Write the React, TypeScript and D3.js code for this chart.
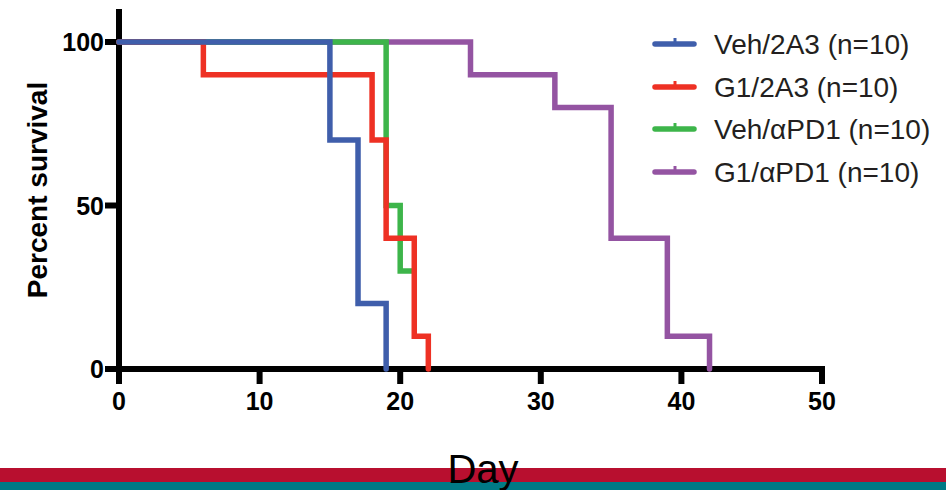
import * as d3 from 'd3'

type Pt = [number, number]

// survival steps: [day, percent]
const veh2A3: Pt[] = [[0, 100], [15, 70], [17, 20], [19, 0]]
const g12A3: Pt[] = [[0, 100], [6, 90], [18, 70], [19, 40], [21, 10], [22, 0]]
const vehPD1: Pt[] = [[0, 100], [19, 50], [20, 30], [21, 30]]
const g1PD1: Pt[] = [[0, 100], [25, 90], [31, 80], [35, 40], [39, 10], [42, 0]]

const seriesNames = ['Veh/2A3 (n=10)', 'G1/2A3 (n=10)', 'Veh/αPD1 (n=10)', 'G1/αPD1 (n=10)']
const seriesColors = ['#3f5eab', '#ee3124', '#3db54a', '#9454a2']
const seriesData = [veh2A3, g12A3, vehPD1, g1PD1]
// bottom to top
const drawOrder = [3, 2, 1, 0]

const xTicks = [0, 10, 20, 30, 40, 50]
const yTicks = [0, 50, 100]

export default function App() {
  const width = 946
  const height = 490

  const x = d3.scaleLinear().domain([0, 50]).range([119, 822])
  const y = d3.scaleLinear().domain([0, 100]).range([369, 42])

  const line = d3
    .line<Pt>()
    .x((d) => x(d[0]))
    .y((d) => y(d[1]))
    .curve(d3.curveStepAfter)

  const font = 'Liberation Sans, Arial, Helvetica, sans-serif'

  return (
    <svg width={width} height={height} style={{ position: 'absolute', left: 0, top: 0 }}>
      <rect width={width} height={height} fill="#fff" />

      {/* bottom bands */}
      <rect x={0} y={468} width={width} height={14} fill="#b80f2f" />
      <rect x={0} y={482} width={width} height={8} fill="#007a86" />

      {/* axes */}
      <line x1={x(0)} x2={x(0)} y1={9} y2={y(0) + 3} stroke="#000" strokeWidth={6} />
      <line x1={x(0) - 3} x2={x(50) + 3} y1={y(0)} y2={y(0)} stroke="#000" strokeWidth={6} />
      {xTicks.map((t) => (
        <g key={t}>
          <line x1={x(t)} x2={x(t)} y1={y(0)} y2={384} stroke="#000" strokeWidth={6} />
          <text x={x(t)} y={410} textAnchor="middle" fontFamily={font} fontWeight="bold" fontSize={25}>
            {t}
          </text>
        </g>
      ))}
      {yTicks.map((t) => (
        <g key={t}>
          <line x1={105} x2={x(0)} y1={y(t)} y2={y(t)} stroke="#000" strokeWidth={6} />
          <text x={104} y={y(t) + 9} textAnchor="end" fontFamily={font} fontWeight="bold" fontSize={25}>
            {t}
          </text>
        </g>
      ))}

      <text
        transform="translate(47,190) rotate(-90)"
        textAnchor="middle"
        fontFamily={font}
        fontWeight="bold"
        fontSize={28}
      >
        Percent survival
      </text>
      <text x={483} y={483} textAnchor="middle" fontFamily={font} fontSize={40} fill="#000">
        Day
      </text>

      {/* curves */}
      {drawOrder.map((i) => (
        <path
          key={seriesNames[i]}
          d={line(seriesData[i]) ?? undefined}
          fill="none"
          stroke={seriesColors[i]}
          strokeWidth={5.5}
          strokeLinecap="round"
          strokeLinejoin="miter"
        />
      ))}

      {/* legend */}
      {seriesNames.map((name, i) => {
        const cy = [44, 87, 129, 172][i]
        return (
          <g key={name}>
            <line x1={655} x2={694} y1={cy} y2={cy} stroke={seriesColors[i]} strokeWidth={5.5} strokeLinecap="round" />
            <line x1={675} x2={675} y1={cy} y2={cy - 6} stroke={seriesColors[i]} strokeWidth={3} />
            <text x={714} y={cy + 10} fontFamily={font} fontSize={28} fill="#231f20">
              {name}
            </text>
          </g>
        )
      })}
    </svg>
  )
}
